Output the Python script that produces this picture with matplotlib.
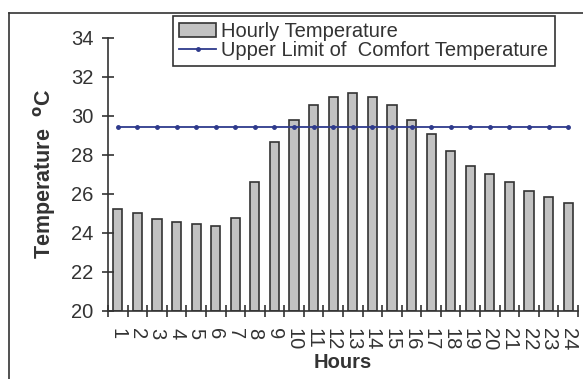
import matplotlib
matplotlib.use('Agg')
import matplotlib.pyplot as plt
from matplotlib.lines import Line2D

hours = list(range(1, 25))
hourly_temp = [25.2, 25.0, 24.7, 24.55, 24.47, 24.35, 24.75, 26.62,
               28.64, 29.78, 30.55, 30.98, 31.18, 30.98, 30.55, 29.78,
               29.07, 28.2, 27.44, 27.02, 26.6, 26.15, 25.82, 25.52]
comfort_limit = [29.4] * 24
y_ticks = [20, 22, 24, 26, 28, 30, 32, 34]

plt.rcParams['font.family'] = ['Liberation Sans', 'DejaVu Sans']
dark = '#333333'

fig = plt.figure(figsize=(5.83, 3.79), dpi=100)
ax = fig.add_axes([108 / 583, 1 - 311 / 379, 470 / 583, (311 - 37.7) / 379])

bars = ax.bar(hours, [t - 20 for t in hourly_temp], bottom=20, width=0.47,
              color='#c2c2c2', edgecolor=dark, linewidth=1.2,
              label='Hourly Temperature')
line, = ax.plot(hours, comfort_limit, color='#2e3a8c', linewidth=1.3,
                marker='o', markersize=2.5,
                label='Upper Limit of  Comfort Temperature')

ax.set_xlim(0.5, 24.5)
ax.set_ylim(20, 34)
ax.set_yticks(y_ticks)
ax.set_xticks(hours)
ax.set_xticklabels([str(h) for h in hours], rotation=270)
ax.set_xticks([h + 0.5 for h in range(0, 25)], minor=True)

ax.tick_params(axis='y', direction='inout', length=9, width=1.2, color=dark,
               labelcolor=dark, labelsize=14.5, pad=6)
ax.tick_params(axis='x', which='major', length=0, labelcolor=dark,
               labelsize=14.5, pad=12)
ax.tick_params(axis='x', which='minor', direction='inout', length=9,
               width=1.2, color=dark)

for s in ['top', 'right']:
    ax.spines[s].set_visible(False)
for s in ['left', 'bottom']:
    ax.spines[s].set_color(dark)
    ax.spines[s].set_linewidth(1.2)

ax.set_xlabel('Hours', fontsize=14.5, fontweight='bold', color=dark, labelpad=2)
ax.set_ylabel('Temperature  $^{\\mathbf{o}}$C', fontsize=15.5, fontweight='bold',
              color=dark, labelpad=9)

leg = ax.legend(handles=[bars, line],
                loc='upper left', bbox_to_anchor=(173 / 583, 1 - 15.7 / 379),
                bbox_transform=fig.transFigure, borderaxespad=0, fancybox=False,
                fontsize=14.5, labelspacing=0, borderpad=0.3,
                handlelength=1.85, handletextpad=0.25, framealpha=1)
leg.get_frame().set_edgecolor(dark)
leg.get_frame().set_linewidth(1.2)
for t in leg.get_texts():
    t.set_color(dark)

# outer frame of the original figure (cut at right and bottom)
fig.add_artist(Line2D([9 / 583, 9 / 583], [0, 1 - 13 / 379],
                      transform=fig.transFigure, color=dark, linewidth=1.2))
fig.add_artist(Line2D([9 / 583, 1], [1 - 13 / 379, 1 - 13 / 379],
                      transform=fig.transFigure, color=dark, linewidth=1.2))

fig.savefig('out.png', dpi=100)
